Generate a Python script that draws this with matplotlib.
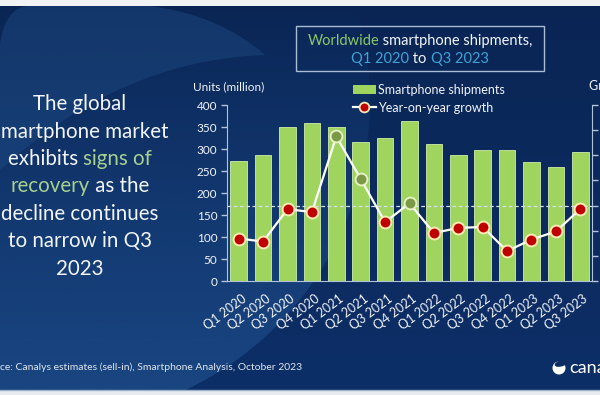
import numpy as np
import matplotlib
matplotlib.use('Agg')
import matplotlib.pyplot as plt
import matplotlib.transforms as mtransforms
from matplotlib.colors import LinearSegmentedColormap, to_rgb
from matplotlib.patches import Rectangle, Circle, Ellipse, PathPatch
from matplotlib.lines import Line2D
from matplotlib.path import Path

# data
quarters = ['Q1 2020', 'Q2 2020', 'Q3 2020', 'Q4 2020',
            'Q1 2021', 'Q2 2021', 'Q3 2021', 'Q4 2021',
            'Q1 2022', 'Q2 2022', 'Q3 2022', 'Q4 2022',
            'Q1 2023', 'Q2 2023', 'Q3 2023']
shipments = [272.6, 285.5, 349, 360, 349, 316.5, 325.5, 363,
             311, 287, 298, 297, 270.5, 259.5, 294]
growth = [-13.1, -14.3, -1.4, -2.6, 27.5, 10.6, -6.6, 0.9,
          -10.9, -8.9, -8.5, -18.1, -13.5, -10.3, -1.4]
units_ticks = list(range(0, 401, 50))
growth_ticks = list(range(-30, 41, 10))

plt.rcParams['font.family'] = ['Lato', 'DejaVu Sans']

W, H = 600, 395
WHITE = '#f2f5fa'
GREEN_TXT = '#a9d18e'
TITLE_GREEN = '#8cc66b'
CYAN = '#3fa3d6'
SPINE = '#b4c2d6'
BAR = '#9fd55e'

fig = plt.figure(figsize=(6, 3.95), dpi=100)
fig.patch.set_facecolor('#0c2c62')

# ---- background (pixel coords, y down)
bg = fig.add_axes([0, 0, 1, 1], zorder=-10)
bg.set_xlim(0, W)
bg.set_ylim(H, 0)
bg.axis('off')
grad = np.linspace(0, 1, 256).reshape(-1, 1)
base_cmap = LinearSegmentedColormap.from_list('base', ['#0a2554', '#0d2f68'])
bg.imshow(grad, cmap=base_cmap, extent=[0, W, H, 0], aspect='auto')

light = np.zeros((200, 2, 4))
light[..., :3] = to_rgb('#1c4a86')
light[..., 3] = np.linspace(0.0, 0.85, 200)[:, None]
im = bg.imshow(light, extent=[0, W, H, 0], aspect='auto', interpolation='bilinear')
circ = Circle((50, 100), 320, transform=bg.transData, facecolor='none', edgecolor='none')
bg.add_patch(circ)
im.set_clip_path(circ)

verts = [(0, 45), (5, 6), (30, 6), (150, 6), (220, 15), (265, 55),
         (120, 60), (0, 170), (0, 45)]
codes = [Path.MOVETO, Path.CURVE3, Path.CURVE3, Path.LINETO, Path.CURVE3, Path.CURVE3,
         Path.CURVE3, Path.CURVE3, Path.CLOSEPOLY]
bg.add_patch(PathPatch(Path(verts, codes), facecolor='#1f4c85', edgecolor='none', alpha=0.45))

bg.add_patch(Rectangle((0, 0), W, 6, facecolor='#f2f3f5', edgecolor='none'))
bg.add_patch(Rectangle((0, 390), W, 5, facecolor='#e8ecf0', edgecolor='none'))
bg.plot([0, W], [390, 390], color='#9bb0c8', lw=1)

# ---- main chart
ax = fig.add_axes([227 / W, 1 - 281 / H, (592 - 227) / W, (281 - 105) / H])
ax.set_facecolor('none')
x = np.arange(len(quarters))
ax.bar(x, shipments, width=0.68, color=BAR, edgecolor='#cfeea8', linewidth=0.6, zorder=2)
ax.set_xlim(-0.48, len(quarters) - 0.52)
ax.set_ylim(0, 400)
ax.set_yticks(units_ticks)
ax.set_xticks(x)
ax.set_xticklabels(quarters, rotation=37, ha='right', va='center',
                   rotation_mode='anchor', fontsize=9, color=WHITE)
ax.tick_params(axis='x', length=0, pad=12)
offset = mtransforms.ScaledTranslation(6 / 100, 0, fig.dpi_scale_trans)
for lab in ax.get_xticklabels():
    lab.set_transform(lab.get_transform() + offset)
ax.tick_params(axis='y', length=4, width=1, color=SPINE, labelsize=8.5,
               labelcolor=WHITE, pad=3, direction='out')
for s in ['top', 'right']:
    ax.spines[s].set_visible(False)
for s in ['left', 'bottom']:
    ax.spines[s].set_color(SPINE)

# growth axis: its tick labels fall outside the cropped picture
ax2 = ax.twinx()
ax2.set_ylim(-30, 40)
ax2.set_yticks(growth_ticks)
ax2.tick_params(axis='y', length=4, width=1, color=SPINE, labelright=False,
                direction='out')
for s in ['top', 'left', 'bottom']:
    ax2.spines[s].set_visible(False)
ax2.spines['right'].set_color(SPINE)
ax2.axhline(0, color='#d6deea', lw=0.9, ls=(0, (3, 2)), zorder=1)
ax2.plot(x, growth, color='white', lw=1.6, zorder=3)
g = np.array(growth)
pos = g > 0
ax2.plot(x[pos], g[pos], ls='none', marker='o', ms=8.5, mfc='#7b9a47',
         mec='#e6efc4', mew=1.4, zorder=4)
ax2.plot(x[~pos], g[~pos], ls='none', marker='o', ms=8.5, mfc='#c00000',
         mec='#fde9b4', mew=1.4, zorder=4)

handles = [Rectangle((0, 0), 1, 1, facecolor=BAR, edgecolor='none'),
           Line2D([], [], color='white', lw=1.6, marker='o', ms=7, mfc='#c00000',
                  mec='#fde9b4', mew=1.3)]
fig.legend(handles, ['Smartphone shipments', 'Year-on-year growth'],
           loc='upper left', bbox_to_anchor=(353 / W, 1 - 83.5 / H), frameon=False,
           fontsize=9, labelcolor=WHITE, handlelength=1.8, handleheight=0.7,
           handletextpad=0.2, labelspacing=0.5, borderpad=0, borderaxespad=0)

fig.text(193 / W, 1 - 90 / H, 'Units (million)', color=WHITE, fontsize=8.5,
         ha='left', va='baseline')
fig.text(589 / W, 1 - 90 / H, 'Growth (%)', color=WHITE, fontsize=9,
         ha='left', va='baseline')

# ---- multi-colour text lines
renderer = fig.canvas.get_renderer()


def measure(s, size):
    t = fig.text(0, 0, '|' + s + '|', fontsize=size)
    t0 = fig.text(0, 0, '||', fontsize=size)
    w = t.get_window_extent(renderer).width - t0.get_window_extent(renderer).width
    t.remove()
    t0.remove()
    return w


def rich_line(pieces, cx, base, size):
    widths = [measure(s, size) for s, _ in pieces]
    left = cx - sum(widths) / 2
    for (s, c), w in zip(pieces, widths):
        fig.text(left / W, 1 - base / H, s, color=c, fontsize=size,
                 ha='left', va='baseline')
        left += w


lines = [
    [('The global', WHITE)],
    [('smartphone market', WHITE)],
    [('exhibits ', WHITE), ('signs of', GREEN_TXT)],
    [('recovery', GREEN_TXT), (' as the', WHITE)],
    [('decline continues', WHITE)],
    [('to narrow in Q3', WHITE)],
    [('2023', WHITE)],
]
for i, pieces in enumerate(lines):
    rich_line(pieces, 80, 110 + 27.5 * i, 14.8)

rich_line([('Worldwide', TITLE_GREEN), (' smartphone shipments,', WHITE)], 420, 45, 10.5)
rich_line([('Q1 2020', CYAN), (' to ', WHITE), ('Q3 2023', CYAN)], 420, 63, 10.5)
bg.add_patch(Rectangle((296, 26), 248, 44.5, facecolor='none', edgecolor='#a8bcd4', lw=1))

src = 'Source: Canalys estimates (sell-in), Smartphone Analysis, October 2023'
fig.text(-measure('Sour', 7.5) / W, 1 - 370 / H, src, color='#dfe5ee', fontsize=7.5,
         ha='left', va='baseline')

# logo
bg.add_patch(Circle((559, 368), 6.5, facecolor='white', edgecolor='none'))
bg.add_patch(Ellipse((561, 363.5), 13, 6, angle=-15, facecolor='#0c2b60', edgecolor='none'))
fig.text(569 / W, 1 - 373 / H, 'canalys', color='white', fontsize=13,
         ha='left', va='baseline')

fig.savefig('out.png', dpi=100, facecolor=fig.get_facecolor())
